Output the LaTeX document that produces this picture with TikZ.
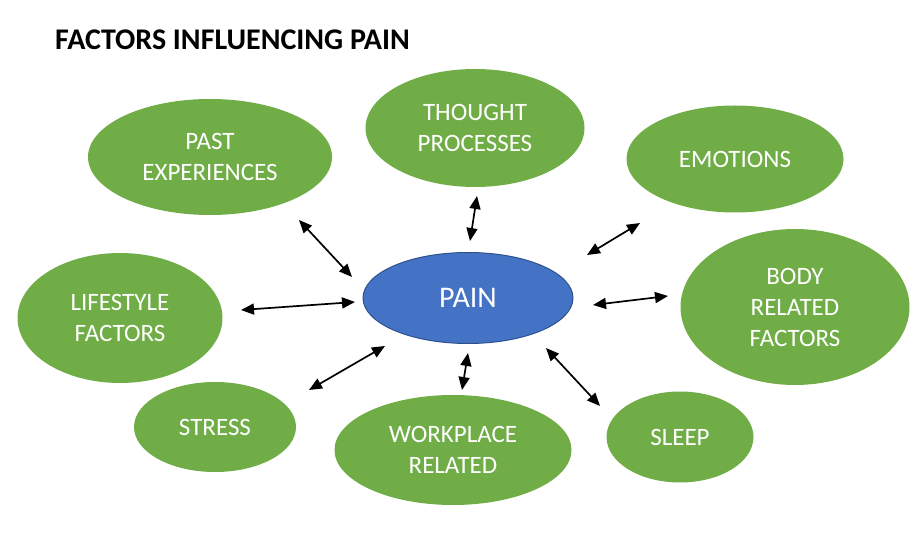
\documentclass[tikz,border=0pt]{standalone}
\usepackage{fontspec}
\setmainfont{Carlito}
\usetikzlibrary{shapes.geometric,arrows.meta}
\definecolor{factorgreen}{HTML}{70AD47}
\definecolor{painblue}{HTML}{4472C4}
\definecolor{painedge}{HTML}{2F528F}
\tikzset{
  factor/.style={ellipse,fill=factorgreen,text=white,inner sep=0pt,align=center,
    font=\fontsize{25}{31}\selectfont},
  link/.style={{Triangle[length=13pt,width=11pt]}-{Triangle[length=13pt,width=11pt]},
    line width=1.7pt}
}
\begin{document}
\begin{tikzpicture}[x=1pt,y=-1pt]
      \useasboundingbox (0,0) rectangle (921,534);
      \node[anchor=base west,inner sep=0pt,font=\fontsize{30}{34}\selectfont\bfseries]
        (title) at (55,50) {FACTORS INFLUENCING PAIN};
      \draw
        (468,298) node[ellipse,fill=painblue,draw=painedge,line width=1pt,text=white,
          minimum width=210,minimum height=91,font=\fontsize{30}{34}\selectfont] (pain){PAIN}
        (210,157) node[factor,minimum width=244,minimum height=116] (past){PAST\\EXPERIENCES}
        (475,128) node[factor,minimum width=219,minimum height=118] (thought){THOUGHT\\PROCESSES}
        (735,159) node[factor,minimum width=217,minimum height=107] (emotions){EMOTIONS}
        (795,307) node[factor,minimum width=229,minimum height=156] (body){BODY\\RELATED\\FACTORS}
        (680,437) node[factor,minimum width=147,minimum height=91] (sleep){SLEEP}
        (453,450) node[factor,minimum width=237,minimum height=110] (workplace){WORKPLACE\\RELATED}
        (215,427) node[factor,minimum width=162,minimum height=90] (stress){STRESS}
        (120,318) node[factor,minimum width=205,minimum height=130] (lifestyle){LIFESTYLE\\FACTORS};
      \coordinate (past-a) at (299,220);
      \coordinate (past-b) at (352,277);
      \coordinate (thought-a) at (477,196);
      \coordinate (thought-b) at (470,241);
      \coordinate (emotions-a) at (640,223);
      \coordinate (emotions-b) at (587,255);
      \coordinate (body-a) at (668,296);
      \coordinate (body-b) at (593,305);
      \coordinate (sleep-a) at (600,406);
      \coordinate (sleep-b) at (546,348);
      \coordinate (workplace-a) at (462,390);
      \coordinate (workplace-b) at (468,353);
      \coordinate (stress-a) at (309,390);
      \coordinate (stress-b) at (385,346);
      \coordinate (lifestyle-a) at (241,310);
      \coordinate (lifestyle-b) at (355,302);
      \begin{scope}[link]
        \draw (past-a) to (past-b);
        \draw (thought-a) to (thought-b);
        \draw (emotions-a) to (emotions-b);
        \draw (body-a) to (body-b);
        \draw (sleep-a) to (sleep-b);
        \draw (workplace-a) to (workplace-b);
        \draw (stress-a) to (stress-b);
        \draw (lifestyle-a) to (lifestyle-b);
      \end{scope}
    \end{tikzpicture}
\end{document}
